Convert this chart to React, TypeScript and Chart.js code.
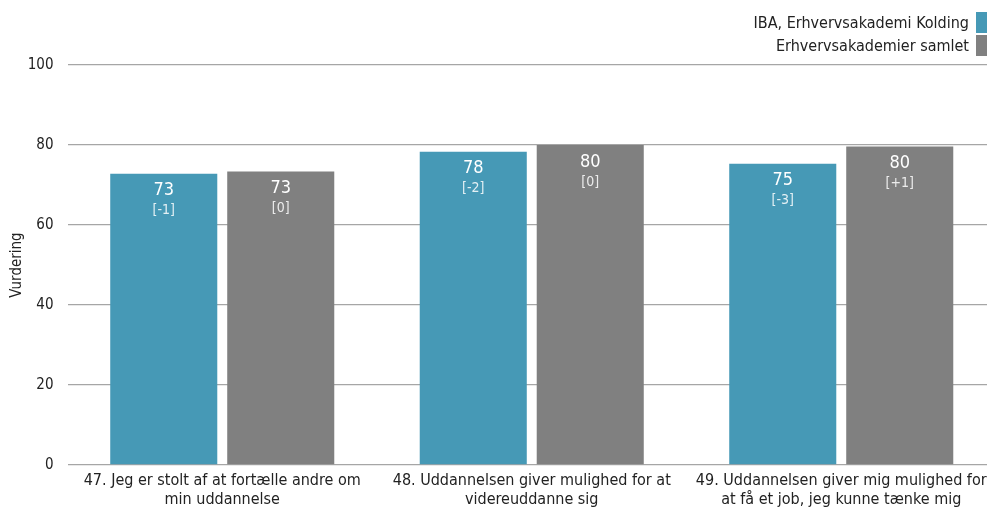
import React, { useEffect, useRef } from "react";
import { Chart, registerables } from "chart.js";

Chart.register(...registerables);

const categories: string[][] = [
  ["47. Jeg er stolt af at fortælle andre om", "min uddannelse"],
  ["48. Uddannelsen giver mulighed for at", "videreuddanne sig"],
  ["49. Uddannelsen giver mig mulighed for", "at få et job, jeg kunne tænke mig"],
];
const seriesNames = ["IBA, Erhvervsakademi Kolding", "Erhvervsakademier samlet"];
const ibaValues = [72.8, 78.3, 75.3];
const totalValues = [73.4, 80.0, 79.6];
const ibaLabels = ["73", "78", "75"];
const totalLabels = ["73", "80", "80"];
const ibaDeltas = ["-1", "-2", "-3"];
const totalDeltas = ["0", "0", "+1"];
const yTicks = [0, 20, 40, 60, 80, 100];
const colors = ["#4699b6", "#808080"];

const FONT = "'DejaVu Sans Condensed', 'DejaVu Sans', sans-serif";

export default function App() {
  const ref = useRef<HTMLCanvasElement | null>(null);
  useEffect(() => {
    if (!ref.current) return;
    const labels = [ibaLabels, totalLabels];
    const deltas = [ibaDeltas, totalDeltas];
    const labelPlugin = {
      id: "barLabels",
      afterDatasetsDraw(chart: any) {
        const ctx = chart.ctx;
        ctx.save();
        ctx.textAlign = "center";
        ctx.textBaseline = "middle";
        chart.data.datasets.forEach((_ds: any, di: number) => {
          const meta = chart.getDatasetMeta(di);
          meta.data.forEach((bar: any, i: number) => {
            ctx.fillStyle = "#ffffff";
            ctx.font = `18px ${FONT}`;
            ctx.fillText(labels[di][i], bar.x, bar.y + 17);
            ctx.fillStyle = "rgba(255,255,255,0.85)";
            ctx.font = `14px ${FONT}`;
            ctx.fillText(`[${deltas[di][i]}]`, bar.x, bar.y + 37);
          });
        });
        ctx.restore();
      },
    };
    const chart = new Chart(ref.current, {
      type: "bar",
      data: {
        labels: categories,
        datasets: [
          { label: seriesNames[0], data: ibaValues, backgroundColor: colors[0] },
          { label: seriesNames[1], data: totalValues, backgroundColor: colors[1] },
        ],
      },
      options: {
        animation: false,
        responsive: false,
        devicePixelRatio: 1,
        layout: { padding: { top: 65, right: 4, left: 0, bottom: 0 } },
        plugins: { legend: { display: false }, tooltip: { enabled: false } },
        datasets: { bar: { categoryPercentage: 0.756, barPercentage: 0.915 } },
        scales: {
          x: {
            grid: { display: false, drawTicks: false },
            border: { display: false },
            ticks: {
              color: "#222",
              font: { family: FONT, size: 16, lineHeight: 1.2 },
              padding: 6,
              maxRotation: 0,
              autoSkip: false,
            },
            afterFit(scale: any) {
              scale.height = 44;
            },
          },
          y: {
            min: 0,
            max: 100,
            afterBuildTicks(scale: any) {
              scale.ticks = yTicks.map((v) => ({ value: v }));
            },
            grid: { color: "#a6a6a6", lineWidth: 1.3, drawTicks: false },
            border: { display: false },
            ticks: {
              color: "#222",
              font: { family: FONT, size: 15 },
              padding: 14,
            },
            title: {
              display: true,
              text: "Vurdering",
              color: "#222",
              font: { family: FONT, size: 15 },
              padding: { top: 8, bottom: 0 },
            },
            afterFit(scale: any) {
              scale.width = 67.5;
            },
          },
        },
      },
      plugins: [labelPlugin],
    } as any);
    return () => chart.destroy();
  }, []);

  return (
    <div
      style={{
        position: "fixed",
        left: 0,
        top: 0,
        width: 987,
        height: 509,
        overflow: "hidden",
        background: "#fff",
        fontFamily: FONT,
      }}
    >
      <canvas ref={ref} width={1000} height={509} style={{ display: "block" }} />
      {seriesNames.map((name, i) => (
        <div
          key={name}
          style={{
            position: "absolute",
            right: 0,
            top: 12 + i * 23,
            height: 21,
            display: "flex",
            alignItems: "center",
            fontSize: 16,
            color: "#222",
          }}
        >
          <span style={{ marginRight: 7 }}>{name}</span>
          <span style={{ width: 11, height: 21, background: colors[i], display: "inline-block" }} />
        </div>
      ))}
    </div>
  );
}
